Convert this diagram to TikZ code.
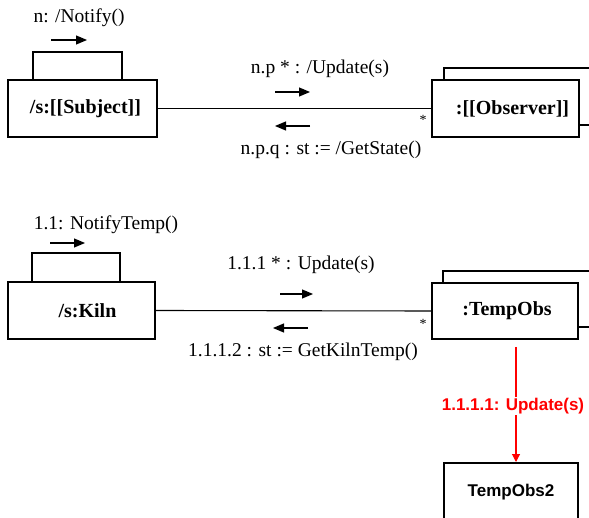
\documentclass[tikz,border=0pt]{standalone}
\usepackage{fontspec}
\setmainfont{Liberation Serif}
\newfontfamily\arialf{Liberation Sans}
\usetikzlibrary{arrows.meta}
\begin{document}
\begin{tikzpicture}[x=1pt,y=-1pt,line width=1.1pt,
  objbox/.style={draw,line width=1.1pt,inner sep=0pt,font=\fontsize{20}{22}\selectfont\bfseries},
  tabbox/.style={draw,line width=1.1pt,inner sep=0pt},
  msg/.style={inner sep=0pt,font=\fontsize{19.5}{21}\selectfont},
  starlbl/.style={inner sep=0pt,font=\fontsize{14}{16}\selectfont},
  marrow/.style={-{Triangle[length=11pt,width=9pt]},line width=1.2pt},
  redlbl/.style={fill=white,inner sep=1pt,text=red,font=\arialf\bfseries\fontsize{17}{19}\selectfont}]
\useasboundingbox (0,0) rectangle (589,518);

% ---------- top collaboration ----------
\node[tabbox,minimum width=89pt,minimum height=28pt] (subjtab) at (77.5,66) {};
\node[objbox,minimum width=149pt,minimum height=57pt] (subj) at (82.5,108.5) {\hspace*{6pt}/s:[[Subject]]};
\draw (444,80) -- (444,68) -- (590,68);
\draw (579,125) -- (590,125);
\node[objbox,fill=white,minimum width=147pt,minimum height=57pt] (obs) at (505.5,108.5) {\hspace*{14pt}:[[Observer]]};
\draw (subj.east) -- (obs.west);

\node[msg] (notify) at (79,18) {n: /Notify()};
\coordinate (na1) at (51,40); \coordinate (na2) at (87,40);
\draw[marrow] (na1) -- (na2);

\node[msg] (upd) at (320,69) {n.p * : /Update(s)};
\coordinate (ua1) at (275,92); \coordinate (ua2) at (310,92);
\draw[marrow] (ua1) -- (ua2);
\coordinate (ga1) at (310,126); \coordinate (ga2) at (275,126);
\draw[marrow] (ga1) -- (ga2);
\node[msg] (gst) at (331,150) {n.p.q : st := /GetState()};
\node[starlbl] (star1) at (423,120) {*};

% ---------- bottom collaboration ----------
\node[tabbox,minimum width=88pt,minimum height=29pt] (kilntab) at (76,267.5) {};
\node[objbox,minimum width=147pt,minimum height=57pt] (kiln) at (81.5,310.5) {\hspace*{12pt}/s:Kiln};
\draw (443,283) -- (443,271) -- (590,271);
\draw (578,327) -- (590,327);
\node[objbox,fill=white,minimum width=146pt,minimum height=56pt] (tobs) at (505,311) {\hspace*{4pt}:TempObs};
\draw (kiln.east) -- (tobs.west);

\node[msg] (ntemp) at (106,225) {1.1: NotifyTemp()};
\coordinate (ka1) at (50,243); \coordinate (ka2) at (85,243);
\draw[marrow] (ka1) -- (ka2);

\node[msg] (upd2) at (301,265) {1.1.1 * : Update(s)};
\coordinate (ub1) at (280,294); \coordinate (ub2) at (313,294);
\draw[marrow] (ub1) -- (ub2);
\coordinate (gb1) at (308,328); \coordinate (gb2) at (273,328);
\draw[marrow] (gb1) -- (gb2);
\node[msg] (gkt) at (303,352) {1.1.1.2 : st := GetKilnTemp()};
\node[starlbl] (star2) at (423,324) {*};

% ---------- TempObs2 ----------
\node[draw,line width=1.1pt,minimum width=134pt,minimum height=80pt,inner sep=0pt] (tobs2) at (511,503) {};
\node[inner sep=0pt,font=\arialf\bfseries\fontsize{17}{19}\selectfont] (tobs2lbl) at (511,492) {TempObs2};
\coordinate (rs) at (516,347);
\coordinate (re) at (516,462);
\draw[red,line width=1.1pt,-{Triangle[length=8pt,width=8pt]}] (rs) -- (re);
\node[redlbl] (rlbl) at (513,406) {1.1.1.1: Update(s)};
\end{tikzpicture}
\end{document}
